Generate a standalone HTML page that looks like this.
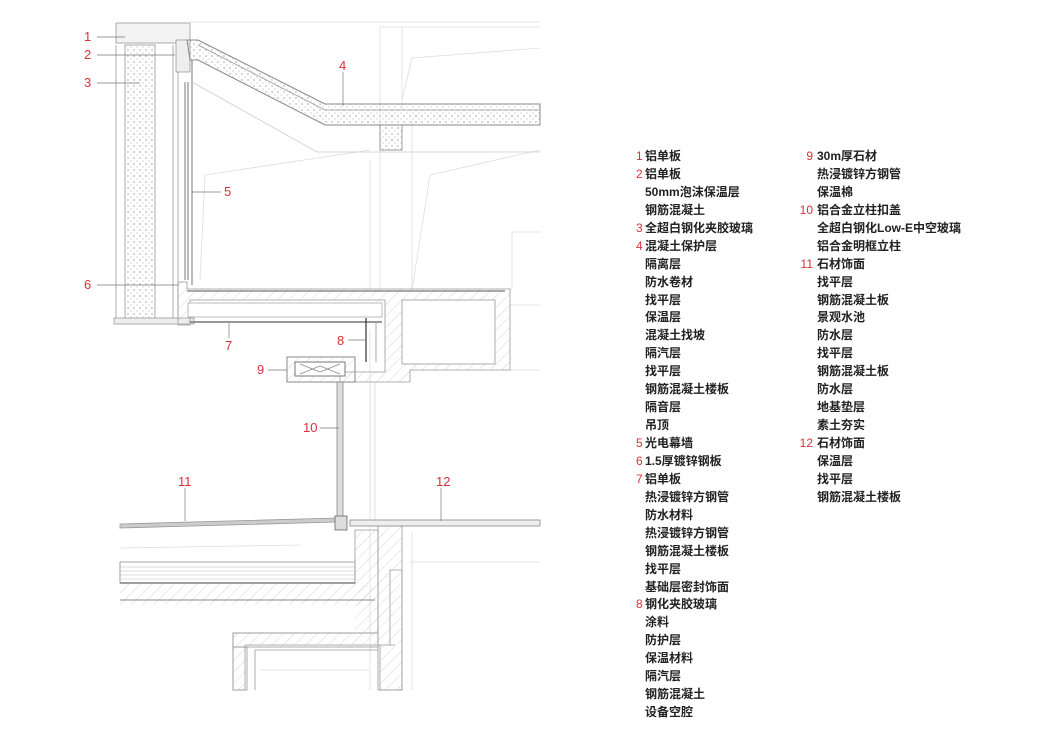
<!DOCTYPE html>
<html><head><meta charset="utf-8"><style>
body{margin:0;background:#fff;width:1057px;height:745px;overflow:hidden;position:relative;font-family:"Liberation Sans","Noto Sans CJK SC",sans-serif}
svg{position:absolute;left:0;top:0}
.col{position:absolute;top:148px;font-size:12px;line-height:17.94px;color:#222;font-weight:bold;font-family:"Liberation Sans","Noto Sans CJK SC",sans-serif}
.col div{white-space:nowrap;padding-left:9px;position:relative}
.col b{position:absolute;left:0;color:#d8323c;font-weight:normal;text-align:right}
.r b{left:-9px;width:14px}
.n{fill:#d8323c;font-size:13px;font-family:"Liberation Sans",sans-serif}
</style></head><body>
<svg width="1057" height="745" viewBox="0 0 1057 745">
<defs>
<pattern id="h" width="8" height="8" patternUnits="userSpaceOnUse" patternTransform="rotate(45)"><line x1="0" y1="0" x2="0" y2="8" stroke="#ccc" stroke-width="0.8"/></pattern>
<pattern id="d" width="6" height="6" patternUnits="userSpaceOnUse"><circle cx="2" cy="2" r="0.9" fill="#bbb"/><circle cx="5" cy="5" r="0.7" fill="#ccc"/></pattern>
</defs>
<g fill="none" stroke="#ddd" stroke-width="0.8">
<line x1="190" y1="22" x2="540" y2="22"/>
<line x1="380" y1="27" x2="540" y2="27"/>
<line x1="380" y1="27" x2="380" y2="290"/>
<line x1="370" y1="160" x2="370" y2="290"/>
<line x1="412" y1="120" x2="412" y2="290"/>
<line x1="402" y1="27" x2="402" y2="110"/>
<line x1="412" y1="58" x2="540" y2="48"/>
<line x1="412" y1="58" x2="402" y2="100"/>
<line x1="205" y1="175" x2="370" y2="150"/>
<line x1="205" y1="175" x2="200" y2="280"/>
<line x1="430" y1="175" x2="540" y2="150"/>
<line x1="430" y1="175" x2="412" y2="290"/>
<line x1="512" y1="232" x2="512" y2="290"/>
<line x1="512" y1="232" x2="540" y2="232"/>
<line x1="370" y1="330" x2="370" y2="690"/>
<line x1="375" y1="382" x2="375" y2="520"/>
<line x1="415" y1="310" x2="415" y2="365"/>
<line x1="412" y1="330" x2="495" y2="322"/>
<line x1="510" y1="305" x2="540" y2="305"/>
<line x1="510" y1="370" x2="540" y2="370"/>
<line x1="410" y1="562" x2="540" y2="562"/>
<line x1="412" y1="532" x2="412" y2="690"/>
<line x1="120" y1="548" x2="300" y2="545"/>
<line x1="260" y1="670" x2="370" y2="670"/>
</g>
<rect x="125" y="45" width="30" height="275" fill="url(#d)" stroke="#999" stroke-width="0.8"/>
<g stroke="#999" stroke-width="0.8" fill="none">
<line x1="116" y1="45" x2="116" y2="322"/>
<line x1="173" y1="45" x2="173" y2="322"/>
<line x1="178" y1="45" x2="178" y2="322"/>
<rect x="116" y="23" width="74" height="20" fill="#f3f3f3"/>
<rect x="114" y="318" width="80" height="6" fill="#eee"/>
</g>
<g stroke="#777" stroke-width="1" fill="none">
<line x1="185" y1="82" x2="185" y2="280"/>
<line x1="188" y1="82" x2="188" y2="280"/>
<line x1="192" y1="60" x2="192" y2="285"/>
</g>
<rect x="176" y="40" width="14" height="32" fill="#eee" stroke="#999" stroke-width="0.8"/>
<path d="M187 40 L198 40 L325 104 L540 104 L540 125 L325 125 L198 60 L190 60 Z" fill="url(#d)" stroke="#888" stroke-width="1"/>
<path d="M198 45 L325 110 L540 110" fill="none" stroke="#999" stroke-width="0.8"/>
<rect x="380" y="125" width="22" height="25" fill="url(#d)" stroke="#888" stroke-width="0.8"/>
<path d="M192 82 L317 152 L540 152" fill="none" stroke="#ccc" stroke-width="0.8"/>
<path d="M178 282 L187 282 L187 289 L510 289 L510 370 L410 370 L410 382 L340 382 L340 372 L385 372 L385 300 L190 300 L190 325 L178 325 Z" fill="url(#h)" stroke="#999" stroke-width="0.8"/>
<line x1="187" y1="291" x2="505" y2="291" stroke="#777" stroke-width="1.2"/>
<rect x="402" y="300" width="93" height="64" fill="#fff" stroke="#999" stroke-width="0.8"/>
<rect x="188" y="303" width="194" height="14" fill="#fff" stroke="#aaa" stroke-width="0.8"/>
<line x1="190" y1="322" x2="382" y2="322" stroke="#777" stroke-width="1.5"/>
<line x1="366" y1="318" x2="366" y2="362" stroke="#333" stroke-width="1.2"/>
<line x1="376" y1="322" x2="376" y2="362" stroke="#aaa" stroke-width="1"/>
<rect x="287" y="357" width="68" height="25" fill="url(#h)" stroke="#888" stroke-width="1"/>
<rect x="295" y="362" width="50" height="14" fill="#fff" stroke="#777" stroke-width="1"/>
<path d="M300 364 L320 372 L340 364 M300 374 L320 366 L340 374" stroke="#888" fill="none" stroke-width="0.8"/>
<rect x="337" y="382" width="6" height="140" fill="#ddd" stroke="#888" stroke-width="0.8"/>
<path d="M120 524 L337 518 L337 522 L120 528 Z" fill="#ccc" stroke="#999" stroke-width="0.8"/>
<rect x="350" y="520" width="190" height="6" fill="#eee" stroke="#888" stroke-width="0.8"/>
<rect x="335" y="516" width="12" height="14" fill="#ddd" stroke="#666" stroke-width="0.8"/>
<path d="M120 562 L355 562 L355 583 L120 583 Z" fill="#fff" stroke="#888" stroke-width="0.8"/>
<g stroke="#bbb" stroke-width="0.6"><line x1="120" y1="567" x2="355" y2="567"/><line x1="120" y1="571" x2="355" y2="571"/><line x1="120" y1="575" x2="355" y2="575"/><line x1="120" y1="579" x2="355" y2="579"/></g>
<path d="M120 583 L355 583 L355 530 L378 530 L378 633 L233 633 L233 690 L245 690 L245 645 L390 645 L390 570 L402 570 L402 690 L380 690 L380 645 L395 645" fill="none" stroke="#999" stroke-width="0.8"/>
<rect x="120" y="583" width="255" height="22" fill="url(#h)"/>
<rect x="355" y="530" width="23" height="105" fill="url(#h)"/>
<rect x="378" y="526" width="24" height="164" fill="url(#h)" stroke="#999" stroke-width="0.8"/>
<rect x="233" y="633" width="145" height="14" fill="url(#h)" stroke="#999" stroke-width="0.8"/>
<rect x="233" y="647" width="14" height="43" fill="url(#h)" stroke="#999" stroke-width="0.8"/>
<line x1="120" y1="600" x2="375" y2="600" stroke="#888" stroke-width="1"/>
<line x1="120" y1="583" x2="355" y2="583" stroke="#666" stroke-width="1.2"/>
<line x1="255" y1="650" x2="378" y2="650" stroke="#999" stroke-width="0.8"/>
<line x1="255" y1="650" x2="255" y2="690" stroke="#999" stroke-width="0.8"/>
<g stroke="#777" stroke-width="0.7">
<line x1="97" y1="37" x2="125" y2="37"/><line x1="97" y1="55" x2="175" y2="55"/><line x1="97" y1="83" x2="140" y2="83"/>
<line x1="343" y1="72" x2="343" y2="106"/><line x1="192" y1="192" x2="221" y2="192"/>
<line x1="97" y1="285" x2="178" y2="285"/><line x1="229" y1="323" x2="229" y2="338"/>
<line x1="348" y1="340" x2="366" y2="340"/><line x1="268" y1="370" x2="287" y2="370"/>
<line x1="320" y1="428" x2="339" y2="428"/><line x1="185" y1="488" x2="185" y2="521"/>
<line x1="441" y1="488" x2="441" y2="521"/>
</g>
<text class="n" x="84" y="41">1</text><text class="n" x="84" y="59">2</text><text class="n" x="84" y="87">3</text>
<text class="n" x="339" y="70">4</text><text class="n" x="224" y="196">5</text><text class="n" x="84" y="289">6</text>
<text class="n" x="225" y="350">7</text><text class="n" x="337" y="345">8</text><text class="n" x="257" y="374">9</text>
<text class="n" x="303" y="432">10</text><text class="n" x="178" y="486">11</text><text class="n" x="436" y="486">12</text>
</svg>
<div class="col" style="left:636px">
<div><b>1</b>铝单板</div><div><b>2</b>铝单板</div><div>50mm泡沫保温层</div><div>钢筋混凝土</div>
<div><b>3</b>全超白钢化夹胶玻璃</div><div><b>4</b>混凝土保护层</div><div>隔离层</div><div>防水卷材</div>
<div>找平层</div><div>保温层</div><div>混凝土找坡</div><div>隔汽层</div><div>找平层</div><div>钢筋混凝土楼板</div>
<div>隔音层</div><div>吊顶</div><div><b>5</b>光电幕墙</div><div><b>6</b>1.5厚镀锌钢板</div><div><b>7</b>铝单板</div>
<div>热浸镀锌方钢管</div><div>防水材料</div><div>热浸镀锌方钢管</div><div>钢筋混凝土楼板</div><div>找平层</div>
<div>基础层密封饰面</div><div><b>8</b>钢化夹胶玻璃</div><div>涂料</div><div>防护层</div><div>保温材料</div>
<div>隔汽层</div><div>钢筋混凝土</div><div>设备空腔</div>
</div>
<div class="col r" style="left:808px">
<div><b>9</b>30m厚石材</div><div>热浸镀锌方钢管</div><div>保温棉</div><div><b>10</b>铝合金立柱扣盖</div>
<div>全超白钢化Low-E中空玻璃</div><div>铝合金明框立柱</div><div><b>11</b>石材饰面</div><div>找平层</div>
<div>钢筋混凝土板</div><div>景观水池</div><div>防水层</div><div>找平层</div><div>钢筋混凝土板</div>
<div>防水层</div><div>地基垫层</div><div>素土夯实</div><div><b>12</b>石材饰面</div><div>保温层</div>
<div>找平层</div><div>钢筋混凝土楼板</div>
</div>
</body></html>
